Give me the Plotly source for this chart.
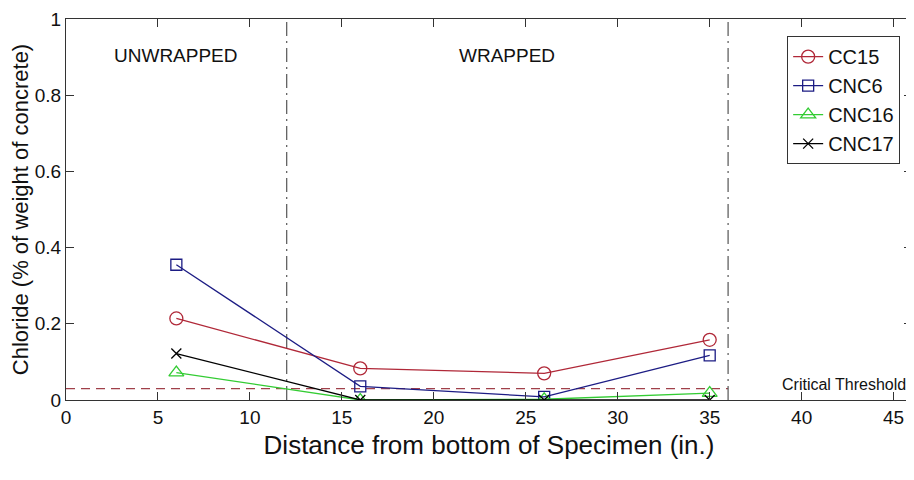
import plotly.graph_objects as go

# Data
distance = [6, 16, 26, 35]
cc15 = [0.214, 0.083, 0.070, 0.158]
cnc6 = [0.355, 0.036, 0.008, 0.117]
cnc16 = [0.072, 0.0, 0.002, 0.018]
cnc17 = [0.122, 0.0, 0.0, 0.0]
critical_threshold = 0.03
wrap_start = 12
wrap_end = 36
x_ticks = [0, 5, 10, 15, 20, 25, 30, 35, 40, 45]
y_ticks = [0, 0.2, 0.4, 0.6, 0.8, 1]
y_tick_labels = ["0", "0.2", "0.4", "0.6", "0.8", "1"]

FONT = "Liberation Sans Narrow, Arial Narrow, Liberation Sans, Arial, sans-serif"

fig = go.Figure()

# threshold line
fig.add_trace(go.Scatter(x=[0, wrap_end], y=[critical_threshold, critical_threshold],
                         mode="lines", line=dict(color="#a0404a", width=1.3, dash="9px,6px"),
                         showlegend=False, hoverinfo="skip"))
# boundaries
for xb in [wrap_start, wrap_end]:
    fig.add_trace(go.Scatter(x=[xb, xb], y=[0, 1], mode="lines",
                             line=dict(color="#555555", width=1.2, dash="14px,5px,2px,5px"),
                             showlegend=False, hoverinfo="skip"))

series = [
    ("CC15", cc15, "#b02838", "circle-open", 13),
    ("CNC6", cnc6, "#1c1c84", "square-open", 11),
    ("CNC16", cnc16, "#33cc33", "triangle-up-open", 13),
    ("CNC17", cnc17, "#000000", "x-thin-open", 10),
]
for name, vals, color, sym, size in series:
    fig.add_trace(go.Scatter(x=distance, y=vals, mode="lines+markers", name=name,
                             line=dict(color=color, width=1.3),
                             marker=dict(symbol=sym, size=size, color=color,
                                         line=dict(color=color, width=1.3))))

fig.add_annotation(x=6.0, y=0.905, text="UNWRAPPED", showarrow=False,
                   font=dict(family=FONT, size=19, color="#111111"))
fig.add_annotation(x=24, y=0.905, text="WRAPPED", showarrow=False,
                   font=dict(family=FONT, size=19, color="#111111"))
fig.add_annotation(x=45.8, y=critical_threshold, text="Critical Threshold", showarrow=False,
                   xanchor="right", yanchor="middle", yshift=4,
                   font=dict(family=FONT, size=16, color="#111111"))

# page body has an 8px margin, so the figure is shrunk by that offset
fig.update_layout(
    width=906, height=472,
    margin=dict(l=58, r=2, t=11, b=80),
    paper_bgcolor="white", plot_bgcolor="white",
    font=dict(family=FONT, color="#111111"),
    legend=dict(x=0.986, y=0.955, xanchor="right", yanchor="top",
                bordercolor="#333333", borderwidth=1, bgcolor="white",
                font=dict(family=FONT, size=20), tracegroupgap=0,
                itemwidth=30),
    xaxis=dict(range=[0, 46], tickvals=x_ticks, ticks="inside", ticklen=8,
               showline=True, mirror="allticks", linecolor="#333333", linewidth=1.2,
               tickcolor="#333333", showgrid=False, zeroline=False, automargin=False,
               ticklabeloverflow="allow",
               tickfont=dict(family=FONT, size=19),
               title=dict(text="Distance from bottom of Specimen (in.)",
                          font=dict(family=FONT, size=26), standoff=8)),
    yaxis=dict(range=[0, 1], tickvals=y_ticks, ticktext=y_tick_labels, ticks="inside", ticklen=8,
               showline=True, mirror="allticks", linecolor="#333333", linewidth=1.2,
               tickcolor="#333333", showgrid=False, zeroline=False, automargin=False,
               ticklabeloverflow="allow",
               tickfont=dict(family=FONT, size=19),
               title=dict(text="Chloride (% of weight of concrete)",
                          font=dict(family=FONT, size=22), standoff=6)),
)

fig.write_html("out.html")
